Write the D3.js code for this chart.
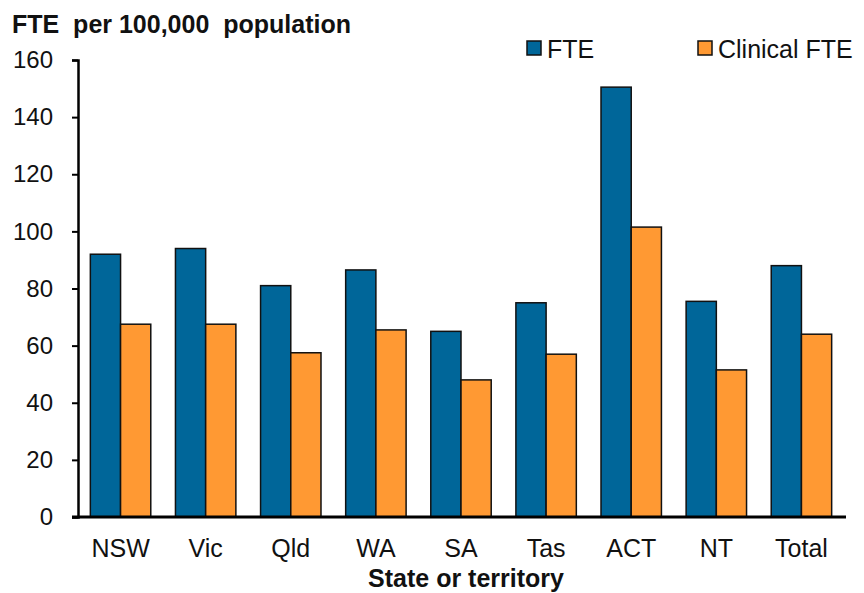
<!DOCTYPE html>
<html>
<head>
<meta charset="utf-8">
<script src="https://cdn.jsdelivr.net/npm/d3@7"></script>
<style>
  body { margin: 0; background: #fff; }
  text { font-family: "Liberation Sans", Arial, sans-serif; white-space: pre; }
</style>
</head>
<body>
<div id="chart"></div>
<script>
const categories = ["NSW", "Vic", "Qld", "WA", "SA", "Tas", "ACT", "NT", "Total"];
const fte = [92, 94, 81, 86.5, 65, 75, 150.5, 75.5, 88];
const clinicalFte = [67.5, 67.5, 57.5, 65.5, 48, 57, 101.5, 51.5, 64];
const seriesNames = ["FTE", "Clinical FTE"];
const yTicks = [0, 20, 40, 60, 80, 100, 120, 140, 160];

const width = 864, height = 593;
const margin = { top: 60, left: 78, bottom: 76, right: 20 };
const iwidth = width - margin.left - margin.right;
const iheight = height - margin.top - margin.bottom;
const colors = ["#006699", "#FF9933"];

const svg = d3.select("#chart").append("svg")
  .attr("width", width)
  .attr("height", height);

let g = svg.append("g").attr("transform", `translate(${margin.left},${margin.top})`);

const y = d3.scaleLinear().domain([0, 160]).range([iheight, 0]);
const x = d3.scaleBand().domain(categories).range([0, iwidth]).padding(0);
const groupW = x.bandwidth() * 0.71;
const x1 = d3.scaleBand().domain(seriesNames).range([0, groupW]).padding(0);

const rows = categories.map((c, i) => ({ cat: c, vals: [fte[i], clinicalFte[i]] }));

const groups = g.selectAll("g.grp").data(rows).enter().append("g")
  .attr("class", "grp")
  .attr("transform", d => `translate(${x(d.cat) + (x.bandwidth() - groupW) / 2},0)`);

groups.selectAll("rect").data(d => d.vals.map((v, k) => ({ k, v })))
  .enter().append("rect")
  .attr("x", d => x1(seriesNames[d.k]))
  .attr("y", d => y(d.v))
  .attr("width", x1.bandwidth())
  .attr("height", d => iheight - y(d.v))
  .attr("fill", d => colors[d.k])
  .attr("stroke", "#111")
  .attr("stroke-width", 1.5);

// y axis
const yAxis = g.append("g")
  .call(d3.axisLeft(y).tickValues(yTicks).tickSize(6).tickPadding(19));
yAxis.select(".domain").attr("stroke", "#000").attr("stroke-width", 2.5);
yAxis.selectAll(".tick line").attr("stroke", "#000").attr("stroke-width", 2);
yAxis.selectAll(".tick text")
  .attr("font-size", 24)
  .attr("fill", "#111");

// x axis
const xAxis = g.append("g")
  .attr("transform", `translate(0,${iheight})`)
  .call(d3.axisBottom(x).tickSize(0).tickPadding(22));
xAxis.select(".domain").remove();
xAxis.selectAll(".tick text").attr("font-size", 25).attr("fill", "#111");
g.append("line")
  .attr("x1", -6).attr("x2", iwidth + 2)
  .attr("y1", iheight).attr("y2", iheight)
  .attr("stroke", "#000").attr("stroke-width", 3);

// titles
svg.append("text")
  .attr("x", 12).attr("y", 33)
  .attr("font-size", 25).attr("font-weight", "bold").attr("fill", "#111")
  .text("FTE  per 100,000  population");

svg.append("text")
  .attr("x", 466).attr("y", 587)
  .attr("text-anchor", "middle")
  .attr("font-size", 25).attr("font-weight", "bold").attr("fill", "#111")
  .text("State or territory");

// legend
const legendX = [527, 698];
const legend = svg.selectAll("g.leg").data(seriesNames).enter().append("g")
  .attr("class", "leg")
  .attr("transform", (d, i) => `translate(${legendX[i]},41)`);
legend.append("rect")
  .attr("width", 14).attr("height", 14)
  .attr("fill", (d, i) => colors[i])
  .attr("stroke", "#111").attr("stroke-width", 1.5);
legend.append("text")
  .attr("x", 20).attr("y", 17)
  .attr("font-size", 25).attr("fill", "#111")
  .text(d => d);
</script>
</body>
</html>
